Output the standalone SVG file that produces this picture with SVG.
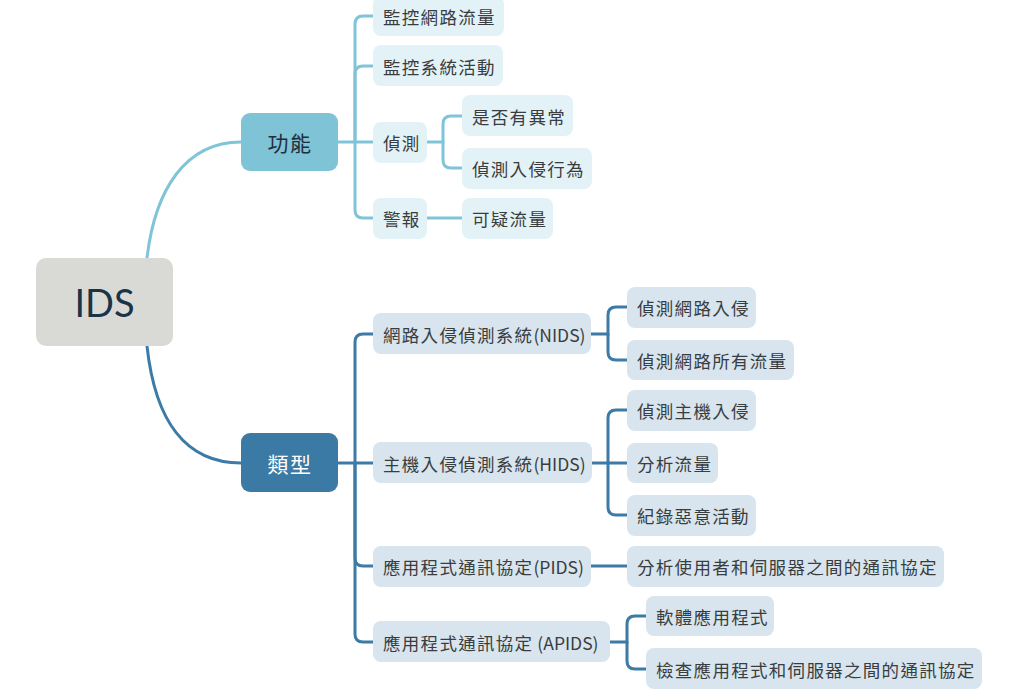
<svg xmlns="http://www.w3.org/2000/svg" width="1024" height="694" viewBox="0 0 1024 694">
<style>
.t{font-family:"Noto Sans CJK TC","Noto Sans",sans-serif;font-size:17.5px;fill:#3a3d40;letter-spacing:1.3px;dominant-baseline:central}
.l{letter-spacing:0}
.up{fill:none;stroke:#80c4d8;stroke-width:3;stroke-linecap:round}
.lo{fill:none;stroke:#3c7ba6;stroke-width:3;stroke-linecap:round}
.bu{fill:#e3f2f7}
.bl{fill:#d8e5ee}
.big{font-family:"Noto Sans CJK TC","Noto Sans",sans-serif;font-size:21px;letter-spacing:1.5px;dominant-baseline:central;text-anchor:middle}
</style>
<rect width="1024" height="694" fill="#ffffff"/>
<g id="connectors">
<path class="up" d="M147,258 C155,190 185,142 241,142"/>
<path class="lo" d="M147,346 C155,420 185,463 241,463"/>
<path class="up" d="M338,142 H373"/>
<path class="up" d="M355,142 V24 Q355,16 363,16 H373"/>
<path class="up" d="M355,142 V74 Q355,66 363,66 H373"/>
<path class="up" d="M355,142 V210 Q355,218 363,218 H373"/>
<path class="up" d="M427,142 H443 V124 Q443,116 451,116 H462"/>
<path class="up" d="M443,142 V160 Q443,168 451,168 H462"/>
<path class="up" d="M427,218 H462"/>
<path class="lo" d="M338,463 H373"/>
<path class="lo" d="M355,463 V342 Q355,334 363,334 H373"/>
<path class="lo" d="M355,463 V558 Q355,566 363,566 H373"/>
<path class="lo" d="M355,463 V634 Q355,642 363,642 H373"/>
<path class="lo" d="M591,334 H608 V315 Q608,307 616,307 H627"/>
<path class="lo" d="M608,334 V352 Q608,360 616,360 H627"/>
<path class="lo" d="M592,463 H627"/>
<path class="lo" d="M608,463 V418 Q608,410 616,410 H627"/>
<path class="lo" d="M608,463 V507 Q608,515 616,515 H627"/>
<path class="lo" d="M591,566 H627"/>
<path class="lo" d="M610,642 H627 V624 Q627,616 635,616 H646"/>
<path class="lo" d="M627,642 V661 Q627,669 635,669 H646"/>
</g>
<g id="n-ids">
<rect x="36" y="258" width="137" height="88" rx="10" fill="#d9dad5"/>
<text x="104.5" y="302" font-family="Lato,'Open Sans',sans-serif" font-size="38" fill="#1b3347" text-anchor="middle" dominant-baseline="central">IDS</text>
</g>
<g id="n-func">
<rect x="241" y="113" width="97" height="58" rx="9" fill="#7fc3d7"/>
<text class="big" x="290" y="142" fill="#1e2f3a">功能</text>
</g>
<g id="n-type">
<rect x="241" y="433" width="97" height="59" rx="9" fill="#3a7aa4"/>
<text class="big" x="290" y="463" fill="#ffffff">類型</text>
</g>
<g id="n-f1"><rect class="bu" x="373" y="-4" width="131" height="40" rx="8"/><text class="t" x="383" y="16">監控網路流量</text></g>
<g id="n-f2"><rect class="bu" x="373" y="45" width="130" height="41" rx="8"/><text class="t" x="383" y="66">監控系統活動</text></g>
<g id="n-f3"><rect class="bu" x="373" y="122" width="54" height="41" rx="8"/><text class="t" x="383" y="142">偵測</text></g>
<g id="n-f4"><rect class="bu" x="373" y="198" width="54" height="41" rx="8"/><text class="t" x="383" y="218">警報</text></g>
<g id="n-f31"><rect class="bu" x="462" y="95" width="111" height="41" rx="8"/><text class="t" x="472" y="116">是否有異常</text></g>
<g id="n-f32"><rect class="bu" x="462" y="148" width="130" height="41" rx="8"/><text class="t" x="472" y="168">偵測入侵行為</text></g>
<g id="n-f41"><rect class="bu" x="462" y="198" width="91" height="41" rx="8"/><text class="t" x="472" y="218">可疑流量</text></g>
<g id="n-t1"><rect class="bl" x="373" y="313" width="218" height="41" rx="8"/><text class="t" x="383" y="334">網路入侵偵測系統<tspan class="l">(NIDS)</tspan></text></g>
<g id="n-t2"><rect class="bl" x="373" y="442" width="219" height="41" rx="8"/><text class="t" x="383" y="463">主機入侵偵測系統<tspan class="l">(HIDS)</tspan></text></g>
<g id="n-t3"><rect class="bl" x="373" y="546" width="218" height="41" rx="8"/><text class="t" x="383" y="566">應用程式通訊協定<tspan class="l">(PIDS)</tspan></text></g>
<g id="n-t4"><rect class="bl" x="373" y="621" width="237" height="41" rx="8"/><text class="t" x="383" y="642">應用程式通訊協定<tspan class="l"> (APIDS)</tspan></text></g>
<g id="n-t11"><rect class="bl" x="627" y="287" width="129" height="41" rx="8"/><text class="t" x="637" y="307">偵測網路入侵</text></g>
<g id="n-t12"><rect class="bl" x="627" y="340" width="167" height="40" rx="8"/><text class="t" x="637" y="360">偵測網路所有流量</text></g>
<g id="n-t21"><rect class="bl" x="627" y="390" width="129" height="41" rx="8"/><text class="t" x="637" y="410">偵測主機入侵</text></g>
<g id="n-t22"><rect class="bl" x="627" y="443" width="91" height="40" rx="8"/><text class="t" x="637" y="463">分析流量</text></g>
<g id="n-t23"><rect class="bl" x="627" y="495" width="129" height="41" rx="8"/><text class="t" x="637" y="515">紀錄惡意活動</text></g>
<g id="n-t31"><rect class="bl" x="627" y="546" width="317" height="41" rx="8"/><text class="t" x="637" y="566">分析使用者和伺服器之間的通訊協定</text></g>
<g id="n-t41"><rect class="bl" x="646" y="596" width="128" height="40" rx="8"/><text class="t" x="656" y="616">軟體應用程式</text></g>
<g id="n-t42"><rect class="bl" x="646" y="648" width="336" height="41" rx="8"/><text class="t" x="656" y="669">檢查應用程式和伺服器之間的通訊協定</text></g>
</svg>
